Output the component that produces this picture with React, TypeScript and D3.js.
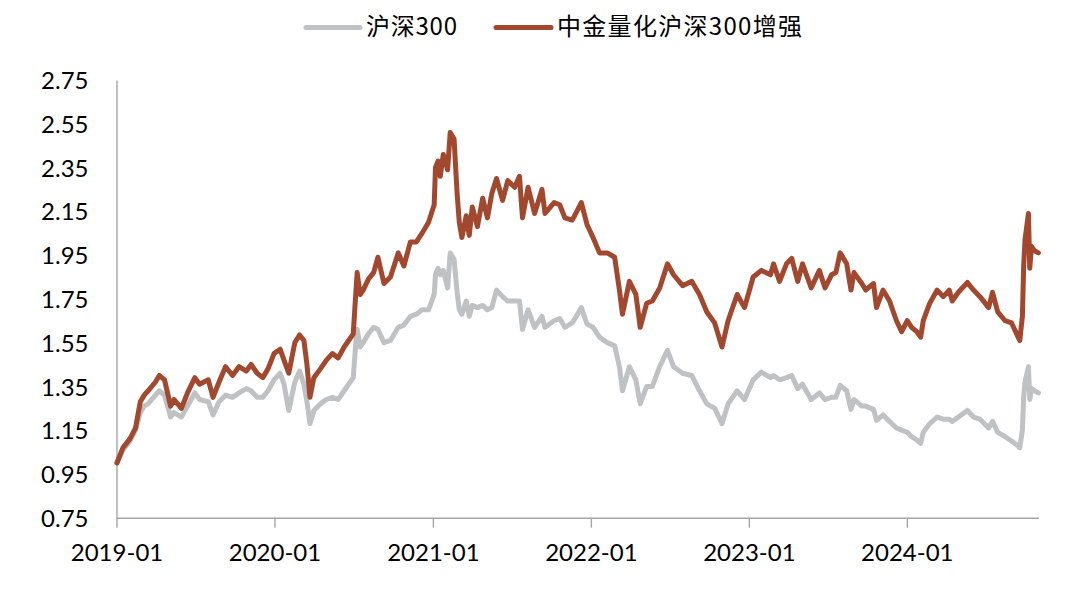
import React from "react";
import * as d3 from "d3";

const width = 1080;
const height = 594;
const plot = { left: 116.5, right: 1038.4, top: 80, bottom: 517.7 };

const seriesNames = ["沪深300", "中金量化沪深300增强"];
const seriesColors = ["#C0C1C3", "#A2482F"];
const axisColor = "#A6A6A6";
const latinFont = "Lato, 'Open Sans', 'DejaVu Sans', sans-serif";
const cjkFont = "'Noto Sans CJK SC', 'Noto Sans', sans-serif";

const dates = [
  // 2019
  "2019-01-02", "2019-01-16", "2019-02-01", "2019-02-14", "2019-02-25", "2019-03-06", "2019-03-15",
  "2019-04-01", "2019-04-10", "2019-04-22", "2019-05-06", "2019-05-14", "2019-05-31", "2019-06-14",
  "2019-07-01", "2019-07-12", "2019-08-01", "2019-08-12", "2019-08-26", "2019-09-10", "2019-09-26",
  "2019-10-11", "2019-10-28", "2019-11-08", "2019-11-22", "2019-12-05", "2019-12-17", "2019-12-31",
  // 2020
  "2020-01-14", "2020-01-23", "2020-02-03", "2020-02-17", "2020-02-28", "2020-03-09", "2020-03-16",
  "2020-03-23", "2020-04-01", "2020-04-16", "2020-04-30", "2020-05-14", "2020-05-27", "2020-06-10",
  "2020-06-24", "2020-07-01", "2020-07-07", "2020-07-10", "2020-07-17", "2020-07-24", "2020-08-05",
  "2020-08-17", "2020-08-27", "2020-09-10", "2020-09-25", "2020-10-13", "2020-10-26", "2020-11-10",
  "2020-11-24", "2020-12-07", "2020-12-22",
  // 2021
  "2021-01-04", "2021-01-07", "2021-01-13", "2021-01-18", "2021-01-25", "2021-02-04", "2021-02-10",
  "2021-02-19", "2021-02-26", "2021-03-03", "2021-03-09", "2021-03-19", "2021-03-26", "2021-04-02",
  "2021-04-14", "2021-04-26", "2021-05-07", "2021-05-17", "2021-05-28", "2021-06-11", "2021-06-23",
  "2021-07-09", "2021-07-20", "2021-07-27", "2021-08-09", "2021-08-24", "2021-09-10", "2021-09-17",
  "2021-10-08", "2021-10-21", "2021-11-02", "2021-11-19", "2021-12-10", "2021-12-23",
  // 2022
  "2022-01-06", "2022-01-21", "2022-02-08", "2022-02-25", "2022-03-08", "2022-03-15", "2022-03-31",
  "2022-04-15", "2022-04-25", "2022-05-10", "2022-05-23", "2022-06-09", "2022-06-27", "2022-07-11",
  "2022-08-01", "2022-08-22", "2022-09-09", "2022-09-26", "2022-10-14", "2022-10-31", "2022-11-14",
  "2022-12-05", "2022-12-22",
  // 2023
  "2023-01-11", "2023-01-30", "2023-02-20", "2023-02-27", "2023-03-13", "2023-03-29", "2023-04-10",
  "2023-04-24", "2023-05-05", "2023-05-25", "2023-06-13", "2023-06-26", "2023-07-11", "2023-07-21",
  "2023-07-31", "2023-08-15", "2023-08-25", "2023-09-01", "2023-09-19", "2023-09-28", "2023-10-16",
  "2023-10-23", "2023-11-07", "2023-11-22", "2023-12-08", "2023-12-20",
  // 2024
  "2024-01-02", "2024-01-12", "2024-01-24", "2024-02-02", "2024-02-08", "2024-02-23", "2024-03-11",
  "2024-03-25", "2024-04-08", "2024-04-15", "2024-04-29", "2024-05-20", "2024-06-03", "2024-06-18",
  "2024-07-08", "2024-07-17", "2024-07-29", "2024-08-15", "2024-08-30", "2024-09-13", "2024-09-18",
  "2024-09-24", "2024-09-27", "2024-09-30", "2024-10-08", "2024-10-11", "2024-10-15", "2024-10-22",
  "2024-10-31",
];

// 沪深300 (net value, start = 1)
const csi300 = [
  1.00, 1.06, 1.10, 1.15, 1.23, 1.26, 1.27, 1.31, 1.33, 1.31, 1.21, 1.23, 1.21, 1.26,
  1.32, 1.29, 1.28, 1.22, 1.28, 1.31, 1.30, 1.32, 1.34, 1.33, 1.30, 1.30, 1.33, 1.38,
  1.41, 1.36, 1.24, 1.37, 1.42, 1.36, 1.28, 1.18, 1.24, 1.27, 1.29, 1.30, 1.29, 1.33,
  1.37, 1.39, 1.55, 1.61, 1.53, 1.55, 1.59, 1.62, 1.61, 1.55, 1.56, 1.62, 1.63, 1.67,
  1.68, 1.70, 1.70,
  1.77, 1.86, 1.89, 1.86, 1.88, 1.80, 1.96, 1.93, 1.78, 1.70, 1.68, 1.74, 1.67, 1.72,
  1.71, 1.72, 1.70, 1.71, 1.79, 1.76, 1.74, 1.74, 1.74, 1.61, 1.70, 1.62, 1.67, 1.62,
  1.65, 1.66, 1.62, 1.64, 1.71, 1.635,
  1.62, 1.575, 1.55, 1.535, 1.44, 1.33, 1.44, 1.38, 1.27, 1.35, 1.35, 1.44, 1.515, 1.44,
  1.41, 1.40, 1.33, 1.27, 1.25, 1.18, 1.27, 1.33, 1.29,
  1.38, 1.415, 1.39, 1.40, 1.38, 1.39, 1.40, 1.34, 1.36, 1.29, 1.32, 1.29, 1.30, 1.30,
  1.355, 1.33, 1.245, 1.29, 1.26, 1.26, 1.245, 1.195, 1.22, 1.19, 1.16, 1.15,
  1.14, 1.12, 1.105, 1.09, 1.14, 1.18, 1.21, 1.20, 1.20, 1.19, 1.21, 1.24, 1.21, 1.20,
  1.16, 1.19, 1.14, 1.12, 1.10, 1.08, 1.07, 1.15, 1.30, 1.37, 1.44, 1.29, 1.34, 1.33,
  1.32,
];

// 中金量化沪深300增强
const enhanced = [
  1.00, 1.07, 1.11, 1.16, 1.28, 1.31, 1.33, 1.37, 1.40, 1.38, 1.26, 1.29, 1.25, 1.32,
  1.39, 1.36, 1.38, 1.30, 1.37, 1.44, 1.40, 1.44, 1.42, 1.45, 1.41, 1.39, 1.43, 1.50,
  1.52, 1.47, 1.41, 1.55, 1.585, 1.56, 1.45, 1.30, 1.39, 1.43, 1.47, 1.50, 1.48, 1.53,
  1.57, 1.59, 1.78, 1.87, 1.77, 1.79, 1.84, 1.87, 1.94, 1.82, 1.85, 1.96, 1.90, 2.01,
  2.01, 2.05, 2.10,
  2.18, 2.35, 2.38, 2.31, 2.41, 2.34, 2.51, 2.48, 2.23, 2.10, 2.03, 2.13, 2.04, 2.17,
  2.08, 2.21, 2.12, 2.23, 2.30, 2.20, 2.29, 2.26, 2.31, 2.12, 2.26, 2.14, 2.25, 2.14,
  2.19, 2.18, 2.12, 2.11, 2.19, 2.09,
  2.03, 1.96, 1.96, 1.94, 1.79, 1.68, 1.83, 1.77, 1.62, 1.73, 1.74, 1.80, 1.91, 1.86,
  1.81, 1.83, 1.77, 1.69, 1.64, 1.53, 1.65, 1.77, 1.71,
  1.85, 1.88, 1.86, 1.91, 1.83, 1.91, 1.935, 1.83, 1.91, 1.80, 1.88, 1.80, 1.86, 1.87,
  1.96, 1.91, 1.79, 1.87, 1.82, 1.79, 1.82, 1.71, 1.79, 1.74, 1.65, 1.60,
  1.65, 1.62, 1.60, 1.575, 1.65, 1.73, 1.79, 1.76, 1.79, 1.74, 1.78, 1.825, 1.79, 1.76,
  1.71, 1.78, 1.69, 1.65, 1.64, 1.58, 1.56, 1.67, 1.90, 2.02, 2.14, 1.89, 1.99, 1.97,
  1.96,
];

const xDomain = ["2019-01-01", "2024-10-31"];
const xTicks = ["2019-01-01", "2020-01-01", "2021-01-01", "2022-01-01", "2023-01-01", "2024-01-01"];
const yTicks = [0.75, 0.95, 1.15, 1.35, 1.55, 1.75, 1.95, 2.15, 2.35, 2.55, 2.75];

const parse = d3.timeParse("%Y-%m-%d");

export default function App() {
  const xAxisRef = React.useRef<SVGGElement>(null);
  const yAxisRef = React.useRef<SVGGElement>(null);

  const xScale = d3.scaleTime()
    .domain(xDomain.map(d => parse(d) as Date))
    .range([plot.left, plot.right]);
  const yScale = d3.scaleLinear().domain([0.75, 2.75]).range([plot.bottom, plot.top]);

  const rows = dates.map((d, i) => ({ date: parse(d) as Date, a: csi300[i], b: enhanced[i] }));
  const lineA = d3.line<any>().x(d => xScale(d.date)).y(d => yScale(d.a));
  const lineB = d3.line<any>().x(d => xScale(d.date)).y(d => yScale(d.b));

  React.useEffect(() => {
    const xAxis = d3.axisBottom(xScale)
      .tickValues(xTicks.map(d => parse(d) as Date))
      .tickFormat(d3.timeFormat("%Y-%m") as any)
      .tickSizeInner(10)
      .tickSizeOuter(0)
      .tickPadding(16);
    const gx = d3.select(xAxisRef.current).call(xAxis as any);
    gx.select(".domain").attr("stroke", axisColor).attr("stroke-width", 1.4);
    gx.selectAll(".tick line").attr("stroke", axisColor).attr("stroke-width", 1.4);
    gx.selectAll(".tick text")
      .attr("fill", "#000")
      .attr("font-size", 24)
      .attr("font-family", latinFont);

    const yAxis = d3.axisLeft(yScale)
      .tickValues(yTicks)
      .tickFormat(d3.format(".2f") as any)
      .tickSize(0)
      .tickPadding(28);
    const gy = d3.select(yAxisRef.current).call(yAxis as any);
    gy.select(".domain").attr("stroke", axisColor).attr("stroke-width", 1.4);
    gy.selectAll(".tick text")
      .attr("fill", "#000")
      .attr("font-size", 24)
      .attr("dy", "0.36em")
      .attr("font-family", latinFont);
  }, []);

  return (
    <svg width={width} height={height} style={{ position: "absolute", left: 0, top: 0, background: "#fff" }}>
      {/* legend */}
      <line x1={306} x2={360} y1={27.5} y2={27.5} stroke={seriesColors[0]} strokeWidth={5} strokeLinecap="round" />
      <text x={366} y={35} fontFamily={cjkFont} fontSize={24} fill="#000" textLength={91} lengthAdjust="spacing">
        {seriesNames[0]}
      </text>
      <line x1={496} x2={551} y1={27.5} y2={27.5} stroke={seriesColors[1]} strokeWidth={5} strokeLinecap="round" />
      <text x={557} y={35} fontFamily={cjkFont} fontSize={24} fill="#000" textLength={245} lengthAdjust="spacing">
        {seriesNames[1]}
      </text>

      <g ref={yAxisRef} transform={`translate(${plot.left}, 0)`} />
      <g ref={xAxisRef} transform={`translate(0, ${plot.bottom})`} />

      <path d={lineA(rows) || ""} fill="none" stroke={seriesColors[0]} strokeWidth={5} strokeLinejoin="round" strokeLinecap="round" />
      <path d={lineB(rows) || ""} fill="none" stroke={seriesColors[1]} strokeWidth={5} strokeLinejoin="round" strokeLinecap="round" />
    </svg>
  );
}
